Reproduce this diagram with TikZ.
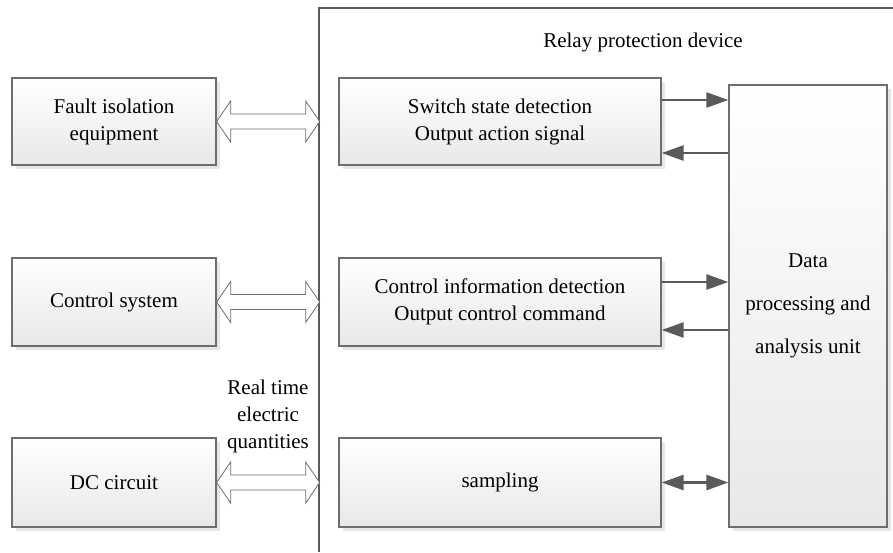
\documentclass[tikz,border=0pt]{standalone}
\usepackage{fontspec}
\setmainfont{Liberation Serif}
\usetikzlibrary{arrows.meta,calc,shadows}
\definecolor{bord}{HTML}{6E6E6E}
\definecolor{arrc}{HTML}{5A5A5A}
\definecolor{shd}{HTML}{E6E6E6}
\definecolor{botc}{HTML}{E8E8E8}
\begin{document}
\begin{tikzpicture}[x=1pt,y=-1pt,
  box/.style={draw=bord,line width=1.3pt,top color=white,bottom color=botc,
    shading angle=0,
    drop shadow={shadow xshift=4pt,shadow yshift=-4pt,fill=shd,opacity=1},
    align=center,inner sep=0pt,font=\fontsize{21}{27}\selectfont},
  arr/.style={draw=arrc,line width=2.6pt,-{Triangle[length=22pt,width=15pt]}},
  darr/.style={draw=arrc,line width=2.6pt,{Triangle[length=22pt,width=15pt]}-{Triangle[length=22pt,width=15pt]}},
  hollow/.style={draw=bord,line width=0.8pt,fill=white},
  lbl/.style={font=\fontsize{21}{27}\selectfont,align=center,inner sep=0pt}]
\useasboundingbox (0,0) rectangle (893,552);
\fill[white] (0,0) rectangle (893,552);
% frame of relay protection device
\draw[draw=arrc,line width=1.8pt] (319,552) -- (319,8) -- (893,8);
\node[lbl] (title) at (643,42) {Relay protection device};
% left boxes
\node[box,minimum width=204pt,minimum height=87pt] (fault) at (114,121.5) {Fault isolation\\equipment};
\node[box,minimum width=204pt,minimum height=88pt] (ctrl) at (114,302) {Control system};
\node[box,minimum width=204pt,minimum height=89pt] (dc) at (114,482.5) {DC circuit};
% middle boxes
\node[box,minimum width=322pt,minimum height=87pt] (sw) at (500,121.5) {Switch state detection\\Output action signal};
\node[box,minimum width=322pt,minimum height=88pt] (ci) at (500,302) {Control information detection\\Output control command};
\node[box,minimum width=322pt,minimum height=89pt] (samp) at (500,482.5) {sampling};
% data box
\node[box,minimum width=158pt,minimum height=442pt,font=\fontsize{21}{43}\selectfont] (data) at (808,306) {Data\\processing and\\analysis unit};
% label
\node[lbl] (rt) at (268,416) {Real time\\electric\\quantities};
% hollow double arrows
\foreach \n in {fault,ctrl,dc}{
  \draw[hollow] (\n.east) -- ++(14,-20.5) -- ++(0,13) -- ++(75,0) -- ++(0,-13)
    -- ++(14,20.5) -- ++(-14,20.5) -- ++(0,-13) -- ++(-75,0) -- ++(0,13) -- cycle;
}
% solid arrows
\draw[arr] ([yshift=21.5pt]sw.east) -- ([yshift=21.5pt]sw.east -| data.west);
\draw[arr] ([yshift=-31.5pt]sw.east -| data.west) -- ([yshift=-31.5pt]sw.east);
\draw[arr] ([yshift=20pt]ci.east) -- ([yshift=20pt]ci.east -| data.west);
\draw[arr] ([yshift=-28pt]ci.east -| data.west) -- ([yshift=-28pt]ci.east);
\draw[darr] (samp.east) -- (samp.east -| data.west);
\end{tikzpicture}
\end{document}
